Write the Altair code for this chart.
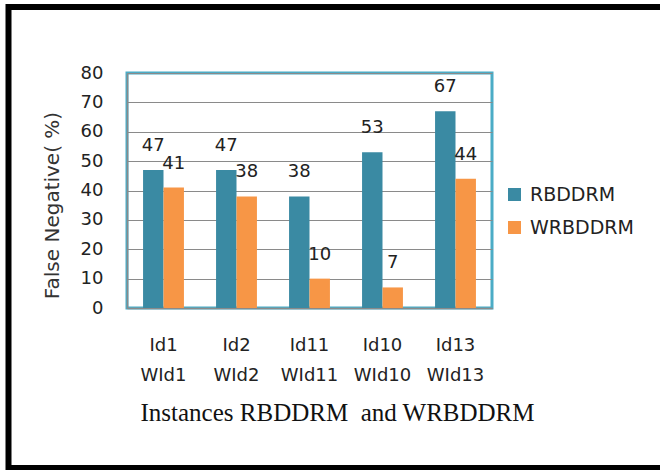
import altair as alt
import pandas as pd

categories = ["Id1 WId1", "Id2 WId2", "Id11 WId11", "Id10 WId10", "Id13 WId13"]
series_names = ["RBDDRM", "WRBDDRM"]
rbddrm = [47, 47, 38, 53, 67]
wrbddrm = [41, 38, 10, 7, 44]
y_ticks = [0, 10, 20, 30, 40, 50, 60, 70, 80]

rows = []
for c, a, b in zip(categories, rbddrm, wrbddrm):
    rows.append({"cat": c, "series": series_names[0], "value": a})
    rows.append({"cat": c, "series": series_names[1], "value": b})
df = pd.DataFrame(rows)

PL, PT = 127, 73
W, H = 365, 235

x_enc = alt.X("cat:N", sort=categories,
              scale=alt.Scale(paddingInner=0.44, paddingOuter=0.22),
              axis=alt.Axis(title="Instances RBDDRM\u00a0 and WRBDDRM",
                            labelExpr="split(datum.label, ' ')",
                            labelAngle=0, labelFontSize=18, labelFont="DejaVu Sans",
                            labelColor="#222", labelLineHeight=30, labelPadding=28,
                            ticks=False, domainColor="#8a8a8a", domainWidth=1.5,
                            titleFont="Liberation Serif", titleFontSize=25,
                            titleFontWeight="normal", titleColor="#111",
                            titleX=210, titleY=112, titleAlign="center",
                            titleBaseline="alphabetic"))
y_enc = alt.Y("value:Q", scale=alt.Scale(domain=[0, 80], nice=False),
              axis=alt.Axis(title="False Negative( %)", values=y_ticks,
                            labelOverlap=False,
                            labelFontSize=18, labelFont="DejaVu Sans", labelColor="#222",
                            labelPadding=24, ticks=False, domainColor="#8a8a8a",
                            domainWidth=1.5, gridColor="#8a8a8a", gridWidth=1,
                            titleFont="DejaVu Sans", titleFontSize=20,
                            titleFontWeight="normal", titleColor="#333",
                            titlePadding=18, titleY=132))
xoff = alt.XOffset("series:N", sort=series_names)

base = alt.Chart(df).encode(x=x_enc, xOffset=xoff, y=y_enc)

bars = base.mark_bar().encode(
    color=alt.Color("series:N", sort=series_names,
                    scale=alt.Scale(domain=series_names, range=["#3A8AA3", "#F79646"]),
                    legend=alt.Legend(title=None, orient="none", legendX=378, legendY=112,
                                      symbolType="square", symbolSize=170,
                                      symbolStrokeWidth=0, labelFontSize=19,
                                      labelFont="DejaVu Sans", labelColor="#222",
                                      rowPadding=13, labelOffset=6)),
)

labels = base.mark_text(fontSize=18, font="DejaVu Sans", color="#222",
                        dy=-19, baseline="alphabetic").encode(
    text="value:Q",
)

frame = alt.Chart(pd.DataFrame({"a": [0]})).mark_rect(
    filled=False, stroke="black", strokeWidth=6).encode(
    x=alt.value(8.5 - PL), x2=alt.value(690 - PL),
    y=alt.value(7 - PT), y2=alt.value(468 - PT),
)

chart = alt.layer(frame, bars, labels).properties(
    width=W, height=H,
    padding={"left": PL, "top": PT, "right": 660 - PL - W, "bottom": 470 - PT - H},
    autosize=alt.AutoSizeParams(type="none"),
    background="white",
).configure_view(stroke="#4BACC6", strokeWidth=3)

chart.save("out.html", embed_options={"renderer": "svg", "actions": False})
